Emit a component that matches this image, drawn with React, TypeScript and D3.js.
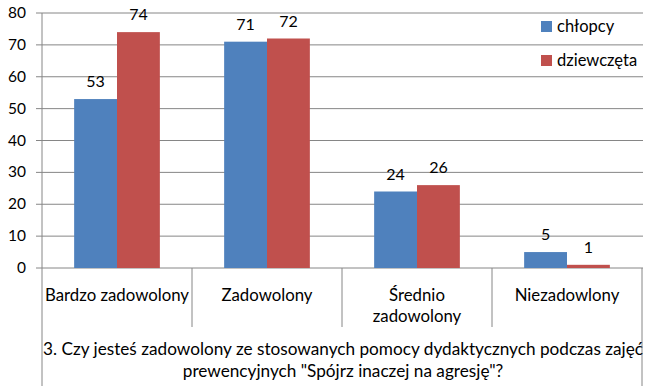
import React from 'react';
import * as d3 from 'd3';

const categories = ['Bardzo zadowolony', 'Zadowolony', 'Średnio zadowolony', 'Niezadowlony'];
const categoryLines = [['Bardzo zadowolony'], ['Zadowolony'], ['Średnio', 'zadowolony'], ['Niezadowlony']];
const seriesNames = ['chłopcy', 'dziewczęta'];
const boys = [53, 71, 24, 5];
const girls = [74, 72, 26, 1];
const yTicks = [0, 10, 20, 30, 40, 50, 60, 70, 80];
const titleLines = [
  '3. Czy jesteś zadowolony ze stosowanych pomocy dydaktycznych podczas zajęć',
  'prewencyjnych "Spójrz inaczej na agresję"?',
];

const colors = ['#4F81BD', '#C0504D'];
const gridColor = '#868686';
const font = 'Lato, "Noto Sans", sans-serif';

const width = 652;
const height = 392;
const margin = { left: 42, right: 10, top: 13, plotBottom: 268 };

export default function App(): React.ReactElement {
  const x = d3.scaleBand<string>()
    .domain(categories)
    .range([margin.left, width - margin.right]);
  // Excel-like gap width 150%
  const groupWidth = (x.bandwidth() / 3.5) * 2;
  const inner = d3.scaleBand<string>()
    .domain(seriesNames)
    .range([0, groupWidth]);
  const y = d3.scaleLinear().domain([0, 80]).range([margin.plotBottom, margin.top]);
  const series = [boys, girls];

  return (
    <svg width={width} height={height} style={{ position: 'absolute', left: 0, top: 0, background: '#fff' }}>
      {/* gridlines + y ticks */}
      {yTicks.map((t) => (
        <g key={t}>
          <line x1={margin.left - 6} x2={width - margin.right + 1} y1={y(t)} y2={y(t)} stroke={gridColor} strokeWidth={1} />
          <text x={26} y={y(t) + 5} textAnchor="end" fontFamily={font} fontSize={15.5} fill="#000">{t}</text>
        </g>
      ))}
      {/* y axis, extends down around the title */}
      <line x1={margin.left} x2={margin.left} y1={margin.top} y2={386} stroke={gridColor} />
      <line x1={width - margin.right} x2={width - margin.right} y1={margin.plotBottom} y2={386} stroke={gridColor} />
      {categories.slice(1).map((c) => (
        <line key={c} x1={x(c)!} x2={x(c)!} y1={margin.plotBottom} y2={327} stroke={gridColor} />
      ))}
      {/* bars */}
      {series.map((vals, si) =>
        vals.map((v, ci) => {
          const bx = x(categories[ci])! + (x.bandwidth() - groupWidth) / 2 + inner(seriesNames[si])!;
          return (
            <g key={`${si}-${ci}`}>
              <rect x={bx} y={y(v)} width={inner.bandwidth()} height={y(0) - y(v)} fill={colors[si]} />
              <text x={bx + inner.bandwidth() / 2} y={y(v) - 12} textAnchor="middle" fontFamily={font} fontSize={16} fill="#000">{v}</text>
            </g>
          );
        })
      )}
      {/* category labels */}
      {categoryLines.map((lines, ci) => (
        <text key={ci} textAnchor="middle" fontFamily={font} fontSize={16.8} fill="#000">
          {lines.map((l, li) => (
            <tspan key={li} x={x(categories[ci])! + x.bandwidth() / 2} y={301 + li * 21}>{l}</tspan>
          ))}
        </text>
      ))}
      {/* legend */}
      {seriesNames.map((s, i) => (
        <g key={s} transform={`translate(541, ${21 + i * 34})`}>
          <rect width={11} height={11} fill={colors[i]} />
          <text x={16} y={11} fontFamily={font} fontSize={16.5} fill="#000">{s}</text>
        </g>
      ))}
      {/* axis title */}
      {titleLines.map((l, i) => (
        <text key={i} x={343} y={355 + i * 22} textAnchor="middle" fontFamily={font} fontSize={17.2} fill="#000">{l}</text>
      ))}
    </svg>
  );
}
